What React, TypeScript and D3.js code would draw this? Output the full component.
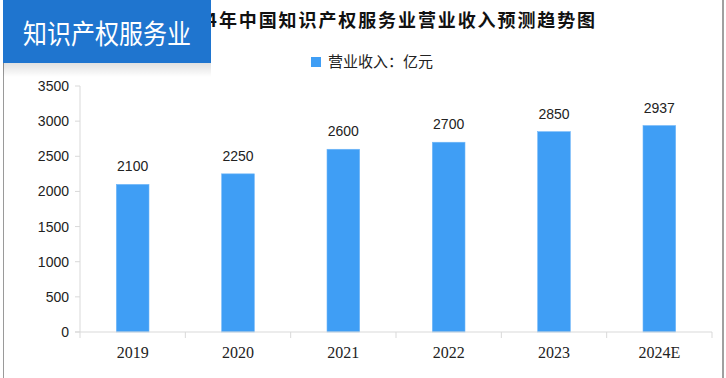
import React from "react";
import * as d3 from "d3";

const categories = ["2019", "2020", "2021", "2022", "2023", "2024E"];
const revenue = [2100, 2250, 2600, 2700, 2850, 2937];
const yTicks = [0, 500, 1000, 1500, 2000, 2500, 3000, 3500];
const titleText = "2019-2024年中国知识产权服务业营业收入预测趋势图";
const legendLabel = "营业收入：亿元";
const badgeText = "知识产权服务业";

const W = 726;
const H = 378;

export default function App() {
  const x = d3.scaleBand<string>().domain(categories).range([80, 712]).paddingInner(0.69).paddingOuter(0.345);
  const y = d3.scaleLinear().domain([0, 3500]).range([332, 86]);
  const step = x.step();
  const tickXs = d3.range(categories.length + 1).map((i) => 80 + i * step);
  const sans = "'Liberation Sans', Arial, sans-serif";
  const cjk = "'Noto Sans CJK SC', sans-serif";

  return (
    <div style={{ position: "fixed", left: 0, top: 0, width: W, height: H, background: "#fff" }}>
      <svg width={W} height={H} style={{ display: "block" }}>
        <defs>
          <linearGradient id="shadow" x1="0" y1="0" x2="0" y2="1">
            <stop offset="0" stopColor="#000" stopOpacity="0.12" />
            <stop offset="1" stopColor="#000" stopOpacity="0" />
          </linearGradient>
        </defs>
        <rect x={0} y={0} width={W} height={H} fill="#fff" />
        {/* frame */}
        <line x1={3.5} x2={3.5} y1={60} y2={H} stroke="#9a9a9a" strokeWidth={1} />
        <line x1={723} x2={723} y1={0} y2={H} stroke="#a0a0a0" strokeWidth={2} />

        {/* title */}
        <text x={597} y={27} textAnchor="end" fontFamily={cjk} fontWeight={700} fontSize={18} letterSpacing={1.9} fill="#111">
          {titleText}
        </text>

        {/* legend */}
        <rect x={311} y={57} width={10} height={10} fill="#3f9ef5" />
        <text x={328} y={67} fontFamily={cjk} fontSize={15} fill="#222">
          {legendLabel}
        </text>

        {/* y axis */}
        <line x1={80} x2={80} y1={y(3500)} y2={y(0)} stroke="#d9d9d9" />
        {yTicks.map((t) => (
          <g key={t}>
            <line x1={75} x2={80} y1={y(t)} y2={y(t)} stroke="#d9d9d9" />
            <text x={69} y={y(t) + 5} textAnchor="end" fontFamily={sans} fontSize={14} fill="#222">
              {t}
            </text>
          </g>
        ))}

        {/* bars */}
        {categories.map((c, i) => (
          <g key={c}>
            <rect x={x(c)} y={y(revenue[i])} width={x.bandwidth()} height={y(0) - y(revenue[i])} fill="#3f9ef5" stroke="#6fb6f8" strokeWidth={0.6} />
            <text x={(x(c) as number) + x.bandwidth() / 2} y={y(revenue[i]) - 13} textAnchor="middle" fontFamily={sans} fontSize={14} fill="#222">
              {revenue[i]}
            </text>
          </g>
        ))}

        {/* x axis */}
        <line x1={75} x2={712} y1={332} y2={332} stroke="#d9d9d9" />
        {tickXs.map((tx, i) => (
          <line key={i} x1={tx} x2={tx} y1={332} y2={338} stroke="#d9d9d9" />
        ))}
        {categories.map((c) => (
          <text key={c} x={(x(c) as number) + x.bandwidth() / 2} y={358} textAnchor="middle" fontFamily="'Liberation Serif', serif" fontSize={16} fill="#222">
            {c}
          </text>
        ))}

        {/* badge */}
        <rect x={3} y={63} width={208} height={14} fill="url(#shadow)" />
        <rect x={3} y={0} width={208} height={63} fill="#1f75cf" />
        <text x={107} y={44} textAnchor="middle" fontFamily={cjk} fontSize={27} fill="#fff" textLength={168} lengthAdjust="spacingAndGlyphs">
          {badgeText}
        </text>
      </svg>
    </div>
  );
}
